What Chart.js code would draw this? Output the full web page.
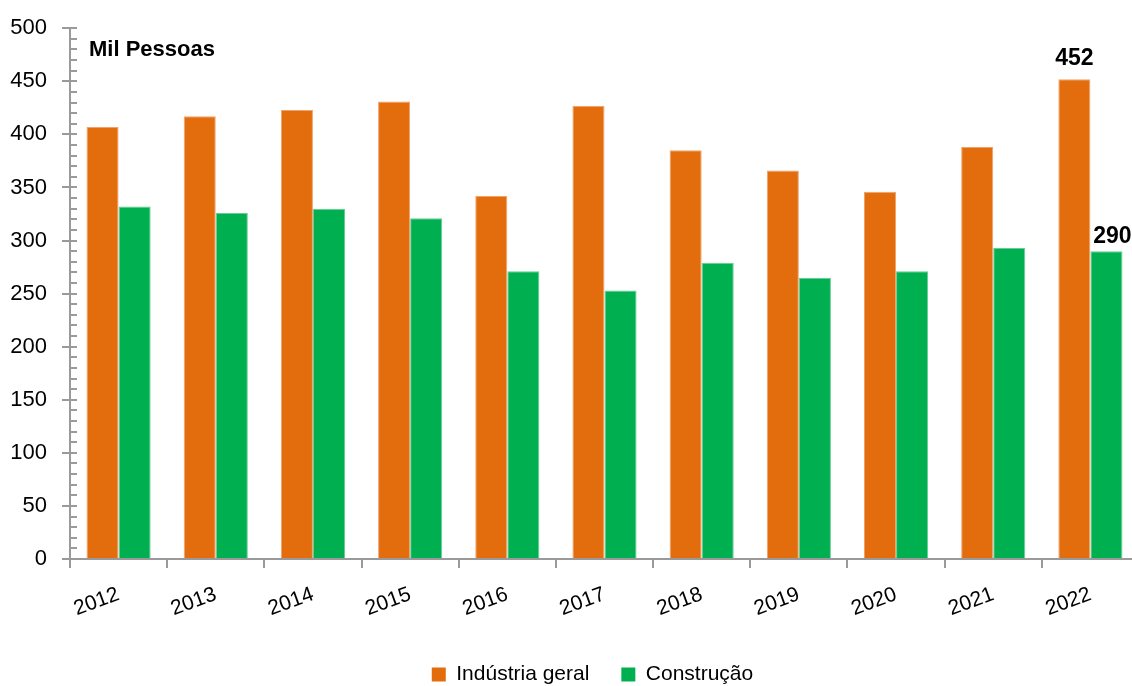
<!DOCTYPE html>
<html>
<head>
<meta charset="utf-8">
<script src="https://cdn.jsdelivr.net/npm/chart.js@4.4.1/dist/chart.umd.min.js"></script>
<style>
  html, body { margin: 0; padding: 0; overflow: hidden; background: #fff; width: 1132px; height: 686px; }
  #wrap { position: absolute; left: 0; top: 0; width: 1184px; height: 686px; }
</style>
</head>
<body>
<div id="wrap"><canvas id="chart"></canvas></div>
<script>
// Emprego (milhares de pessoas) por ano
const years = ['2012', '2013', '2014', '2015', '2016', '2017', '2018', '2019', '2020', '2021', '2022'];
const industriaGeral = [407, 417, 423, 431, 342, 427, 385, 366, 346, 388, 452];
const construcao = [332, 326, 330, 321, 271, 253, 279, 265, 271, 293, 290];
const seriesNames = ['Indústria geral', 'Construção'];
const yMin = 0, yMax = 500, yStep = 50, yMinorStep = 10;
const labelledYear = '2022';
const unitLabel = 'Mil Pessoas';

const FONT = "'Liberation Sans', Arial, sans-serif";
const AXIS_COLOR = '#9a9a9a';

// Small inward ticks on the value axis, the unit caption and the value labels of the last year
const extras = {
  id: 'extras',
  afterLayout(chart) {
    // centre the legend row under the bars and drop it a little lower
    const lg = chart.legend;
    lg.left += 18; lg.right += 18;
    lg.top += 9; lg.bottom += 9;
  },
  afterDraw(chart) {
    const ctx = chart.ctx;
    const y = chart.scales.y;
    const area = chart.chartArea;
    ctx.save();
    ctx.strokeStyle = AXIS_COLOR;
    ctx.lineWidth = 2;
    for (let v = yMin; v <= yMax; v += yMinorStep) {
      const py = Math.round(y.getPixelForValue(v));
      ctx.beginPath();
      ctx.moveTo(area.left, py);
      ctx.lineTo(area.left + 7, py);
      ctx.stroke();
    }
    ctx.fillStyle = '#000';
    ctx.font = 'bold 22px ' + FONT;
    ctx.textAlign = 'left';
    ctx.textBaseline = 'alphabetic';
    ctx.fillText(unitLabel, area.left + 19, area.top + 28);

    const idx = years.indexOf(labelledYear);
    ctx.font = 'bold 23px ' + FONT;
    ctx.textAlign = 'center';
    const shift = [{ dx: 0, dy: 14 }, { dx: 6, dy: 8 }];
    chart.data.datasets.forEach((ds, i) => {
      const bar = chart.getDatasetMeta(i).data[idx];
      ctx.fillText(String(ds.data[idx]), bar.x + shift[i].dx, bar.y - shift[i].dy);
    });
    ctx.restore();
  }
};

new Chart(document.getElementById('chart'), {
  type: 'bar',
  data: {
    labels: years,
    datasets: [
      {
        label: seriesNames[0],
        data: industriaGeral,
        backgroundColor: '#E36C0C',
        borderColor: '#EFA26B',
        borderWidth: 1,
        categoryPercentage: 0.66,
        barPercentage: 1.0
      },
      {
        label: seriesNames[1],
        data: construcao,
        backgroundColor: '#00AF50',
        borderColor: '#66CC94',
        borderWidth: 1,
        categoryPercentage: 0.66,
        barPercentage: 1.0
      }
    ]
  },
  options: {
    responsive: true,
    maintainAspectRatio: false,
    animation: false,
    layout: { padding: { left: 10, right: 45, top: 16, bottom: 0 } },
    plugins: {
      tooltip: { enabled: false },
      legend: {
        position: 'bottom',
        labels: {
          font: { family: FONT, size: 21 },
          color: '#000',
          boxWidth: 14,
          boxHeight: 14,
          padding: 32,
          generateLabels(chart) {
            return Chart.defaults.plugins.legend.labels.generateLabels(chart).map(l => {
              l.strokeStyle = l.fillStyle;
              l.lineWidth = 0;
              return l;
            });
          }
        }
      }
    },
    scales: {
      x: {
        offset: true,
        afterFit(scale) { scale.paddingLeft = 0; scale.paddingRight = 0; scale.height = 64; },
        grid: {
          offset: true,
          drawOnChartArea: false,
          drawTicks: true,
          tickLength: 9,
          color: AXIS_COLOR,
          lineWidth: 2
        },
        border: { display: true, color: AXIS_COLOR, width: 2 },
        ticks: {
          font: { family: FONT, size: 21 },
          color: '#000',
          minRotation: 20,
          maxRotation: 20,
          padding: 14
        }
      },
      y: {
        min: yMin,
        max: yMax,
        afterFit(scale) { scale.width = 60; },
        grid: {
          drawOnChartArea: false,
          drawTicks: true,
          tickLength: 8,
          color: AXIS_COLOR,
          lineWidth: 2
        },
        border: { display: true, color: AXIS_COLOR, width: 2 },
        ticks: {
          stepSize: yStep,
          font: { family: FONT, size: 22 },
          color: '#000',
          padding: 15
        }
      }
    }
  },
  plugins: [extras]
});
</script>
</body>
</html>
